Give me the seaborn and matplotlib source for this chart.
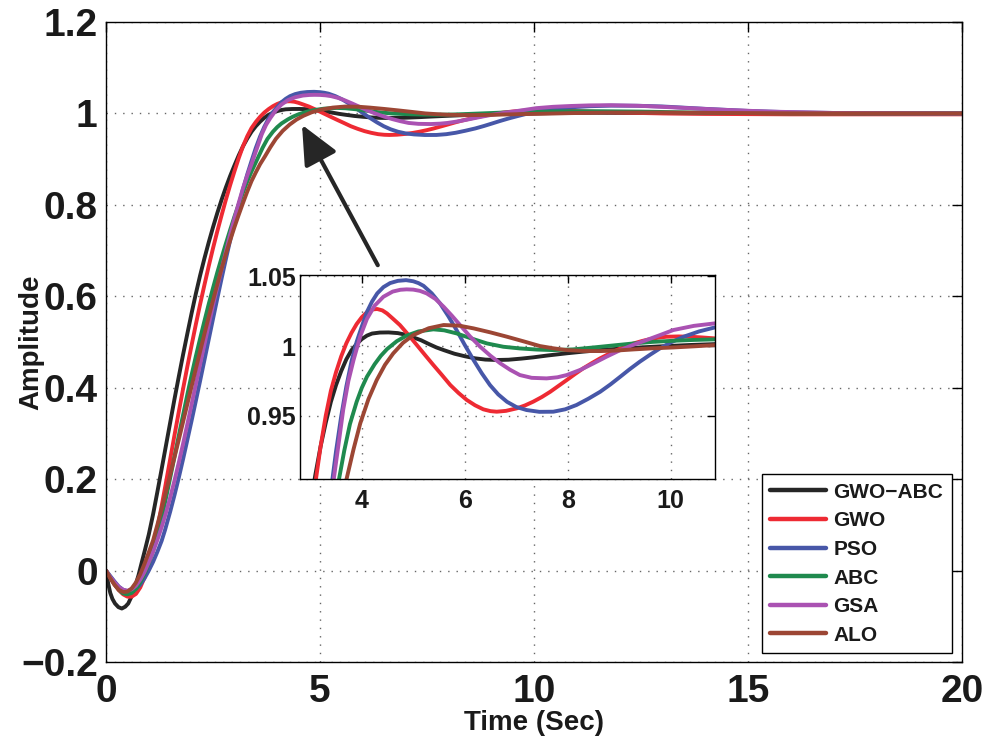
import matplotlib
matplotlib.use("Agg")
import matplotlib.pyplot as plt
import pandas as pd
import seaborn as sns

# ---------------- data ----------------
methods = ["GWO\u2212ABC", "GWO", "PSO", "ABC", "GSA", "ALO"]

black_t = [0, 0.05, 0.1, 0.15, 0.21, 0.29, 0.37, 0.45, 0.52, 0.6, 0.68, 0.76, 0.83, 0.91, 1.0,
           1.1, 1.2, 1.3, 1.4, 1.5, 1.6, 1.7, 1.8, 1.9, 2.0, 2.1, 2.2, 2.3, 2.4, 2.5, 2.6, 2.7, 2.8,
           2.9, 3.0, 3.1, 3.2, 3.3, 3.4, 3.5, 3.6, 3.7, 3.8, 3.9, 4.0, 4.1, 4.2, 4.35, 4.52, 4.7,
           4.87, 5.0, 5.15, 5.3, 5.45, 5.6, 5.8, 6.0, 6.2, 6.4, 6.62, 6.85, 7.1, 7.33, 7.6, 7.98,
           8.3, 8.63, 9.0, 9.4, 9.92, 10.4, 10.86, 11.5, 12.5, 14.0, 16.0, 20.0]
black_y = [0, -0.028, -0.049, -0.062, -0.072, -0.08, -0.083, -0.079, -0.072, -0.056, -0.035, -0.01,
           0.016, 0.045, 0.079, 0.123, 0.172, 0.222, 0.273, 0.324, 0.375, 0.424, 0.472, 0.518, 0.563,
           0.606, 0.646, 0.683, 0.718, 0.751, 0.782, 0.811, 0.838, 0.863, 0.886, 0.908, 0.928, 0.945,
           0.96, 0.972, 0.982, 0.9905, 0.997, 1.0015, 1.005, 1.0075, 1.009, 1.0097, 1.0098, 1.0093,
           1.008, 1.0062, 1.0042, 1.0015, 0.999, 0.997, 0.9945, 0.9927, 0.9912, 0.9903, 0.990, 0.9902,
           0.991, 0.9919, 0.9932, 0.9948, 0.996, 0.9971, 0.9981, 0.999, 1.0, 1.0008, 1.0014, 1.0015,
           1.001, 1.0003, 1.0, 1.0]

red_t = [0, 0.1, 0.2, 0.3, 0.4, 0.5, 0.6, 0.7, 0.8, 0.9, 1.0, 1.1, 1.2, 1.3, 1.4, 1.5, 1.6, 1.7,
         1.8, 1.9, 2.0, 2.1, 2.2, 2.3, 2.4, 2.5, 2.6, 2.7, 2.8, 2.9, 3.0, 3.1, 3.2, 3.3, 3.4, 3.5,
         3.6, 3.7, 3.8, 3.9, 4.0, 4.1, 4.21, 4.3, 4.4, 4.49, 4.6, 4.74, 4.9, 5.07, 5.23, 5.39, 5.55,
         5.72, 5.88, 6.04, 6.2, 6.36, 6.5, 6.62, 6.8, 7.01, 7.17, 7.33, 7.5, 7.66, 7.82, 7.98, 8.14,
         8.30, 8.47, 8.63, 8.8, 8.95, 9.1, 9.28, 9.45, 9.60, 9.76, 9.92, 10.15, 10.38, 10.6, 10.86,
         11.5, 12.2, 13.0, 14.0, 16.0, 20.0]
red_y = [0, -0.016, -0.031, -0.043, -0.052, -0.057, -0.057, -0.051, -0.037, -0.015, 0.015, 0.05,
         0.093, 0.141, 0.192, 0.244, 0.296, 0.347, 0.397, 0.446, 0.493, 0.539, 0.583, 0.625, 0.666,
         0.705, 0.742, 0.777, 0.811, 0.843, 0.873, 0.902, 0.928, 0.950, 0.968, 0.9813, 0.9926, 1.002,
         1.0095, 1.0158, 1.0207, 1.0243, 1.0263, 1.0266, 1.0256, 1.0234, 1.0198, 1.0151, 1.0083,
         1.0007, 0.9935, 0.9864, 0.9795, 0.972, 0.9663, 0.9613, 0.9575, 0.9546, 0.9533, 0.9529,
         0.9535, 0.9553, 0.9574, 0.9601, 0.9635, 0.9672, 0.9714, 0.9756, 0.9799, 0.984, 0.9878,
         0.9912, 0.9944, 0.9971, 0.9994, 1.0019, 1.0037, 1.005, 1.006, 1.0067, 1.0069, 1.0067,
         1.0062, 1.0055, 1.0035, 1.0015, 1.0, 0.999, 0.998, 0.998]

blue_t = [0, 0.1, 0.2, 0.3, 0.4, 0.5, 0.6, 0.7, 0.8, 0.9, 1.0, 1.1, 1.2, 1.3, 1.38, 1.5, 1.6, 1.7,
          1.8, 1.9, 2.0, 2.1, 2.2, 2.3, 2.4, 2.5, 2.6, 2.7, 2.8, 2.9, 3.0, 3.1, 3.2, 3.3, 3.4, 3.5,
          3.6, 3.7, 3.8, 3.9, 4.0, 4.1, 4.2, 4.3, 4.42, 4.55, 4.7, 4.86, 5.0, 5.1, 5.2, 5.36, 5.52,
          5.68, 5.84, 6.0, 6.17, 6.33, 6.49, 6.65, 6.82, 7.0, 7.2, 7.45, 7.72, 7.95, 8.17, 8.4, 8.63,
          8.83, 9.02, 9.2, 9.4, 9.6, 9.79, 10.0, 10.25, 10.55, 10.86, 11.3, 11.8, 12.4, 13.0, 14.0,
          15.0, 16.0, 17.5, 20.0]
blue_y = [0, -0.012, -0.024, -0.035, -0.042, -0.045, -0.045, -0.04, -0.031, -0.017, 0.0, 0.019,
          0.041, 0.065, 0.089, 0.129, 0.165, 0.203, 0.2435, 0.2855, 0.328, 0.3715, 0.4155, 0.4605,
          0.5055, 0.5505, 0.595, 0.6385, 0.681, 0.722, 0.7615, 0.799, 0.834, 0.8665, 0.896, 0.9245,
          0.9495, 0.971, 0.989, 1.003, 1.014, 1.0245, 1.032, 1.0378, 1.0423, 1.0452, 1.0468, 1.0473,
          1.0465, 1.0452, 1.0432, 1.0378, 1.0306, 1.0215, 1.0115, 1.0008, 0.99, 0.9805, 0.972,
          0.9653, 0.960, 0.9563, 0.9541, 0.9528, 0.9529, 0.9546, 0.9577, 0.9622, 0.9672, 0.9725,
          0.978, 0.9833, 0.9888, 0.9938, 0.9983, 1.0026, 1.0067, 1.0105, 1.0134, 1.0158, 1.017,
          1.0168, 1.0152, 1.01, 1.0055, 1.0025, 1.0003, 1.0]

green_t = [0, 0.1, 0.2, 0.3, 0.4, 0.5, 0.6, 0.7, 0.8, 0.9, 1.0, 1.1, 1.2, 1.3, 1.4, 1.5, 1.6, 1.7,
           1.8, 1.9, 2.0, 2.1, 2.2, 2.3, 2.4, 2.5, 2.6, 2.7, 2.8, 2.9, 3.0, 3.1, 3.2, 3.3, 3.4, 3.5,
           3.55, 3.66, 3.77, 3.9, 4.0, 4.1, 4.25, 4.37, 4.49, 4.68, 4.87, 5.1, 5.39, 5.6, 5.84, 6.1,
           6.43, 6.75, 7.07, 7.4, 7.72, 8.1, 8.5, 8.9, 9.28, 9.65, 10.05, 10.45, 10.86, 11.6, 12.5,
           14.0, 16.0, 20.0]
green_y = [0, -0.015, -0.03, -0.042, -0.05, -0.052, -0.049, -0.04, -0.026, -0.007, 0.016, 0.043,
           0.077, 0.115, 0.158, 0.203, 0.249, 0.295, 0.34, 0.385, 0.428, 0.469, 0.508, 0.546, 0.583,
           0.618, 0.652, 0.684, 0.715, 0.745, 0.774, 0.801, 0.827, 0.851, 0.873, 0.893, 0.903, 0.925,
           0.944, 0.96, 0.97, 0.978, 0.987, 0.993, 0.9978, 1.0035, 1.0075, 1.0105, 1.012, 1.0113,
           1.0091, 1.0058, 1.0019, 0.9995, 0.9983, 0.9975, 0.9971, 0.9976, 0.999, 1.0005, 1.0019,
           1.003, 1.0038, 1.0044, 1.0048, 1.0048, 1.004, 1.0015, 1.0, 1.0]

purple_t = [0, 0.1, 0.2, 0.3, 0.4, 0.5, 0.6, 0.7, 0.8, 0.9, 1.0, 1.1, 1.2, 1.3, 1.4, 1.5, 1.6, 1.7,
            1.8, 1.9, 2.0, 2.1, 2.2, 2.3, 2.4, 2.5, 2.6, 2.7, 2.8, 2.9, 3.0, 3.1, 3.2, 3.3, 3.4,
            3.45, 3.55, 3.64, 3.74, 3.84, 3.97, 4.10, 4.25, 4.42, 4.6, 4.75, 4.87, 5.0, 5.13, 5.26,
            5.43, 5.59, 5.75, 5.91, 6.1, 6.30, 6.5, 6.69, 6.88, 7.07, 7.3, 7.59, 7.8, 7.98, 8.25,
            8.50, 8.76, 9.02, 9.28, 9.53, 9.8, 10.05, 10.45, 10.86, 11.3, 11.8, 12.5, 13.2, 14.4,
            15.5, 17.0, 20.0]
purple_y = [0, -0.014, -0.026, -0.036, -0.042, -0.044, -0.041, -0.033, -0.02, -0.003, 0.018, 0.041,
            0.067, 0.095, 0.126, 0.16, 0.197, 0.236, 0.277, 0.32, 0.364, 0.408, 0.452, 0.495, 0.538,
            0.58, 0.62, 0.659, 0.697, 0.735, 0.77, 0.804, 0.836, 0.864, 0.889, 0.903, 0.93, 0.9545,
            0.975, 0.99, 1.007, 1.0195, 1.029, 1.0354, 1.0391, 1.0404, 1.0407, 1.0405, 1.0396, 1.0378,
            1.0338, 1.0282, 1.0218, 1.015, 1.007, 0.9995, 0.993, 0.9876, 0.983, 0.9792, 0.9772,
            0.9768, 0.9776, 0.9792, 0.983, 0.9876, 0.9925, 0.9971, 1.001, 1.0043, 1.008, 1.0115,
            1.0145, 1.0163, 1.0176, 1.018, 1.0165, 1.0135, 1.008, 1.004, 1.001, 1.0]

brown_t = [0, 0.1, 0.2, 0.3, 0.4, 0.5, 0.6, 0.7, 0.8, 0.9, 1.0, 1.1, 1.2, 1.3, 1.4, 1.5, 1.6, 1.7,
           1.8, 1.9, 2.0, 2.1, 2.2, 2.3, 2.4, 2.5, 2.6, 2.7, 2.8, 2.9, 3.0, 3.1, 3.2, 3.3, 3.4, 3.5,
           3.6, 3.71, 3.84, 3.97, 4.13, 4.29, 4.45, 4.61, 4.8, 5.0, 5.3, 5.59, 5.9, 6.17, 6.5, 6.82,
           7.15, 7.46, 7.72, 7.98, 8.3, 8.63, 8.95, 9.28, 9.65, 10.05, 10.45, 10.86, 11.8, 13.0,
           14.5, 16.0, 20.0]
brown_y = [0, -0.017, -0.031, -0.042, -0.047, -0.046, -0.039, -0.026, -0.008, 0.015, 0.04, 0.066,
           0.1, 0.135, 0.172, 0.21, 0.248, 0.286, 0.325, 0.364, 0.403, 0.442, 0.48, 0.518, 0.555,
           0.591, 0.626, 0.66, 0.692, 0.722, 0.751, 0.778, 0.804, 0.829, 0.852, 0.871, 0.889, 0.9055,
           0.926, 0.9445, 0.962, 0.9756, 0.9865, 0.9947, 1.0023, 1.0079, 1.0128, 1.0151, 1.0146,
           1.0127, 1.0098, 1.0067, 1.0033, 1.0, 0.9984, 0.9971, 0.9965, 0.9964, 0.9968, 0.9976,
           0.9984, 0.999, 0.9998, 1.0007, 1.0018, 1.0018, 1.001, 1.0003, 1.0]

x_ticks = [0, 5, 10, 15, 20]
x_tick_labels = ["0", "5", "10", "15", "20"]
y_ticks = [-0.2, 0, 0.2, 0.4, 0.6, 0.8, 1.0, 1.2]
y_tick_labels = ["\u22120.2", "0", "0.2", "0.4", "0.6", "0.8", "1", "1.2"]
inset_x_ticks = [4, 6, 8, 10]
inset_x_tick_labels = ["4", "6", "8", "10"]
inset_y_ticks = [0.95, 1.0, 1.05]
inset_y_tick_labels = ["0.95", "1", "1.05"]

colors = ["#262626", "#ee2a33", "#4757a8", "#1f8a4e", "#aa52b2", "#9c4634"]

# ---------------- build table ----------------
series = [(black_t, black_y), (red_t, red_y), (blue_t, blue_y),
          (green_t, green_y), (purple_t, purple_y), (brown_t, brown_y)]
frames = []
for name, (tt, yy) in zip(methods, series):
    frames.append(pd.DataFrame({"t": tt, "amp": yy, "method": name}))
df = pd.concat(frames, ignore_index=True)
palette = dict(zip(methods, colors))

sns.set_theme(style="white")
plt.rcParams["font.family"] = ["Liberation Sans", "DejaVu Sans"]
plt.rcParams["font.weight"] = "bold"
plt.rcParams["axes.unicode_minus"] = True

fig = plt.figure(figsize=(9.84, 7.4), dpi=100)
ax = fig.add_axes([106 / 984, 78 / 740, 856 / 984, 640 / 740])

LW = 2.8
sns.lineplot(data=df, x="t", y="amp", hue="method", hue_order=methods, palette=palette,
             linewidth=LW, sort=False, estimator=None, ax=ax)

ax.set_xlim(0, 20)
ax.set_ylim(-0.2, 1.2)
ax.set_xticks(x_ticks, labels=x_tick_labels)
ax.set_yticks(y_ticks, labels=y_tick_labels)
ax.tick_params(direction="in", length=7, width=1, top=True, right=True,
               labelsize=28, colors="black", labelcolor="#1a1a1a")
ax.tick_params(axis="y", pad=6)
ax.tick_params(axis="x", pad=9)
ax.grid(True, linestyle=(0, (1, 5)), color="#666666", linewidth=1)
for s in ax.spines.values():
    s.set_visible(True)
    s.set_color("black")
    s.set_linewidth(1)
ax.set_xlabel("Time (Sec)", fontsize=20, fontweight="bold", color="#1a1a1a")
ax.set_ylabel("Amplitude", fontsize=20, fontweight="bold", color="#1a1a1a")
ax.xaxis.set_label_coords(0.5, -0.075)
ax.yaxis.set_label_coords(-0.072, 0.5)

handles, labels = ax.get_legend_handles_labels()
for h in handles:
    h.set_linewidth(3.2)
leg = ax.legend(handles, labels, loc="lower right", bbox_to_anchor=(0.988, 0.014),
                borderaxespad=0, frameon=True, fancybox=False, edgecolor="black",
                fontsize=15, handlelength=2.7, handletextpad=0.35, labelspacing=0.46,
                borderpad=0.4, framealpha=1)
leg.get_frame().set_linewidth(1)
for txt in leg.get_texts():
    txt.set_fontweight("bold")
    txt.set_color("#1a1a1a")

# arrow pointing at the overshoot region
ARROW_HEAD = (4.58, 0.975)
ARROW_TAIL = (6.35, 0.668)
ax.annotate("", xy=ARROW_HEAD, xytext=ARROW_TAIL,
            arrowprops=dict(arrowstyle="-|>,head_length=1.2,head_width=0.55", lw=3,
                            color="#262626", shrinkA=0, shrinkB=0, mutation_scale=20))

# ---------------- inset ----------------
axin = fig.add_axes([300 / 984, 261 / 740, 415 / 984, 204 / 740])
sns.lineplot(data=df, x="t", y="amp", hue="method", hue_order=methods, palette=palette,
             linewidth=LW, sort=False, estimator=None, ax=axin, legend=False)
axin.set_xlim(2.8, 10.86)
axin.set_ylim(0.9046, 1.051)
axin.set_xticks(inset_x_ticks, labels=inset_x_tick_labels)
axin.set_yticks(inset_y_ticks, labels=inset_y_tick_labels)
axin.tick_params(direction="in", length=6, width=1, top=True, right=True,
                 labelsize=18, colors="black", labelcolor="#1a1a1a")
axin.tick_params(axis="y", pad=3)
axin.tick_params(axis="x", pad=7)
axin.grid(True, linestyle=(0, (1, 5)), color="#666666", linewidth=1)
for s in axin.spines.values():
    s.set_visible(True)
    s.set_color("black")
    s.set_linewidth(1)
axin.set_xlabel("")
axin.set_ylabel("")
for lbl in axin.get_xticklabels() + axin.get_yticklabels():
    lbl.set_fontweight("bold")
for lbl in ax.get_xticklabels() + ax.get_yticklabels():
    lbl.set_fontweight("bold")

fig.savefig("out.png", dpi=100)
